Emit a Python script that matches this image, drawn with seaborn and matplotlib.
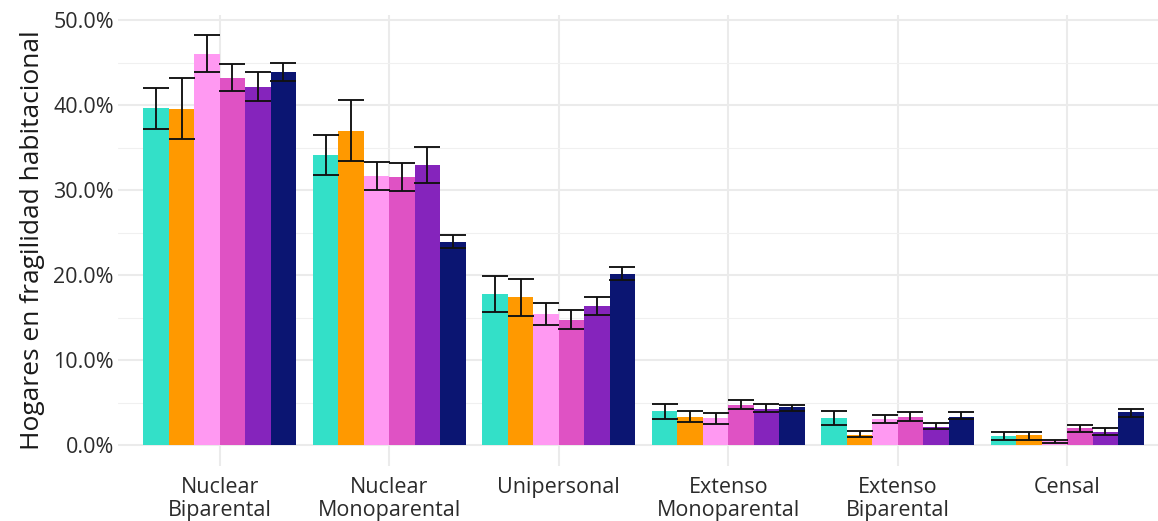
import numpy as np
import pandas as pd
import seaborn as sns
import matplotlib.pyplot as plt
from matplotlib.ticker import PercentFormatter, MultipleLocator

# categorias del eje x
tipos = ["Nuclear\nBiparental", "Nuclear\nMonoparental", "Unipersonal",
         "Extenso\nMonoparental", "Extenso\nBiparental", "Censal"]
series = ["2006", "2009", "2011", "2013", "2015", "2017"]
colores = ["#33E0C8", "#FF9900", "#FF99F2", "#DF52C4", "#8524BC", "#0B1572"]

# porcentaje de hogares (estimado desde la figura), una lista por serie
s1 = [39.7, 34.2, 17.8, 4.0, 3.2, 1.1]
s2 = [39.6, 37.0, 17.4, 3.4, 1.2, 1.2]
s3 = [46.0, 31.7, 15.5, 3.2, 3.1, 0.5]
s4 = [43.2, 31.6, 14.8, 4.8, 3.4, 2.0]
s5 = [42.1, 33.0, 16.4, 4.3, 2.2, 1.6]
s6 = [43.9, 23.9, 20.2, 4.5, 3.4, 3.9]

# limites de los intervalos de confianza
lo1 = [37.2, 31.8, 15.7, 3.1, 2.4, 0.6]
lo2 = [36.0, 33.4, 15.2, 2.8, 1.0, 0.7]
lo3 = [43.9, 30.0, 14.2, 2.5, 2.6, 0.35]
lo4 = [41.7, 29.9, 13.7, 4.3, 2.9, 1.6]
lo5 = [40.5, 30.9, 15.3, 3.9, 1.9, 1.2]
lo6 = [42.9, 23.2, 19.4, 4.0, 3.1, 3.4]

hi1 = [42.0, 36.5, 19.9, 4.9, 4.0, 1.6]
hi2 = [43.2, 40.6, 19.6, 4.0, 1.7, 1.6]
hi3 = [48.2, 33.3, 16.7, 3.8, 3.6, 0.7]
hi4 = [44.8, 33.2, 15.9, 5.3, 3.9, 2.4]
hi5 = [43.9, 35.1, 17.5, 4.9, 2.6, 2.1]
hi6 = [45.0, 24.8, 21.0, 4.8, 3.9, 4.3]

valores = [s1, s2, s3, s4, s5, s6]
bajos = [lo1, lo2, lo3, lo4, lo5, lo6]
altos = [hi1, hi2, hi3, hi4, hi5, hi6]

filas = []
for s, v, l, h in zip(series, valores, bajos, altos):
    for t, vv, ll, hh in zip(tipos, v, l, h):
        filas.append({"tipo": t, "serie": s, "valor": vv, "lo": ll, "hi": hh})
df = pd.DataFrame(filas)

sns.set_theme(style="white")
plt.rcParams["font.family"] = ["Open Sans", "DejaVu Sans"]

fig = plt.figure(figsize=(11.58, 5.21), dpi=100)
ax = fig.add_axes([118 / 1158, 55 / 521, 1051 / 1158, 451 / 521])

sns.barplot(data=df, x="tipo", y="valor", hue="serie", order=tipos,
            hue_order=series, palette=colores, width=0.9, saturation=1,
            errorbar=None, legend=False, ax=ax, zorder=2, linewidth=0)

# barras de error sobre cada rectangulo
barras = [p for p in ax.patches if p.get_height() > 0]
for p, (_, fila) in zip(barras, df.iterrows()):
    xc = p.get_x() + p.get_width() / 2
    ax.errorbar(xc, fila["valor"],
                yerr=[[fila["valor"] - fila["lo"]], [fila["hi"] - fila["valor"]]],
                fmt="none", ecolor="#111111", elinewidth=1.35, capsize=9.1,
                capthick=1.35, zorder=3)

ax.set_xlim(-0.6, 5.6)
ax.set_ylim(-2.41, 50.6)
ax.yaxis.set_major_locator(MultipleLocator(10))
ax.yaxis.set_minor_locator(MultipleLocator(5))
ax.yaxis.set_major_formatter(PercentFormatter(xmax=100, decimals=1))

ax.grid(which="major", axis="both", color="#EBEBEB", linewidth=1.5, zorder=0)
ax.grid(which="minor", axis="y", color="#F0F0F0", linewidth=0.8, zorder=0)
ax.set_axisbelow(True)
for sp in ax.spines.values():
    sp.set_visible(False)

ax.tick_params(axis="both", which="both", length=0, labelsize=15.5,
               labelcolor="#2b2b2b")
ax.tick_params(axis="x", pad=8)
ax.tick_params(axis="y", pad=3)
for lab in ax.get_xticklabels():
    lab.set_linespacing(1.12)
ax.set_xlabel("")
ax.set_ylabel("Hogares en fragilidad habitacional", fontsize=19, color="#1a1a1a",
              labelpad=6)

fig.savefig("out.png", dpi=100)
